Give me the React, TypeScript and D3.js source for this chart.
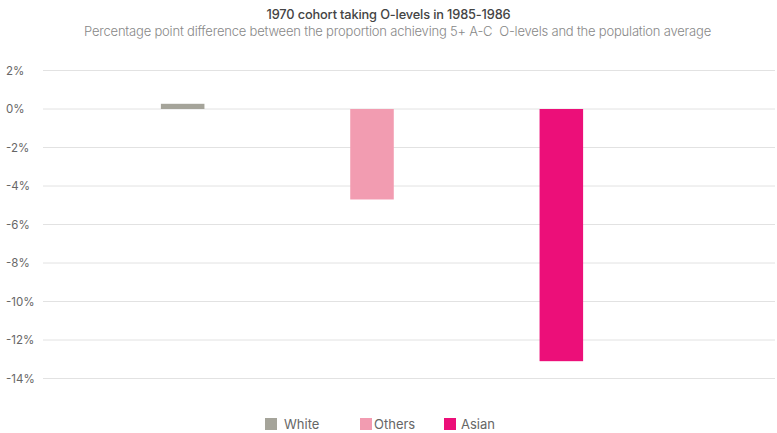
import React from 'react';
import * as d3 from 'd3';

const categories = ['White', 'Others', 'Asian'];
const values = [0.27, -4.7, -13.1];
const colors = ['#a5a49a', '#f29cb1', '#ec0f79'];
const yTicks = [2, 0, -2, -4, -6, -8, -10, -12, -14];

const W = 777;
const H = 433;
const FONT = 'Inter, "Noto Sans", sans-serif';

export default function App() {
  const y = d3.scaleLinear().domain([2, -14]).range([70.5, 378.5]);
  const x = d3.scaleBand().domain(categories).range([88, 656]).paddingInner(0.77).paddingOuter(0.385);

  const legendX = [265, 360, 444];

  return (
    <svg width={W} height={H} style={{ position: 'absolute', left: 0, top: 0, background: '#fff' }} fontFamily={FONT}>
      <text x={W / 2} y={19} textAnchor="middle" fontSize={12.8} fill="#444" fontWeight={500} letterSpacing={-0.15}>
        1970 cohort taking O-levels in 1985-1986
      </text>
      <text x={W / 2 + 9} y={36} textAnchor="middle" fontSize={13} fill="#888" fontWeight={300} letterSpacing={-0.2} style={{ whiteSpace: 'pre' }}>
        Percentage point difference between the proportion achieving 5+ A-C  O-levels and the population average
      </text>

      <g>
        {yTicks.map(t => (
          <g key={t}>
            <line x1={43} x2={775} y1={y(t)} y2={y(t)} stroke="#e2e2e2" strokeWidth={1} />
            <text x={6} y={y(t)} dy="0.35em" fontSize={11.5} fill="#666">
              {t + '%'}
            </text>
          </g>
        ))}
      </g>

      <g>
        {categories.map((c, i) => (
          <rect
            key={c}
            x={x(c)}
            width={x.bandwidth()}
            y={Math.min(y(0), y(values[i]))}
            height={Math.abs(y(values[i]) - y(0))}
            fill={colors[i]}
          />
        ))}
      </g>

      <g>
        {categories.map((c, i) => (
          <g key={c} transform={`translate(${legendX[i]},418)`}>
            <rect width={12} height={12} fill={colors[i]} />
            <text x={c === 'White' ? 19 : c === 'Others' ? 14 : 17} y={6} dy="0.35em" fontSize={13} fill="#666">
              {c}
            </text>
          </g>
        ))}
      </g>
    </svg>
  );
}
